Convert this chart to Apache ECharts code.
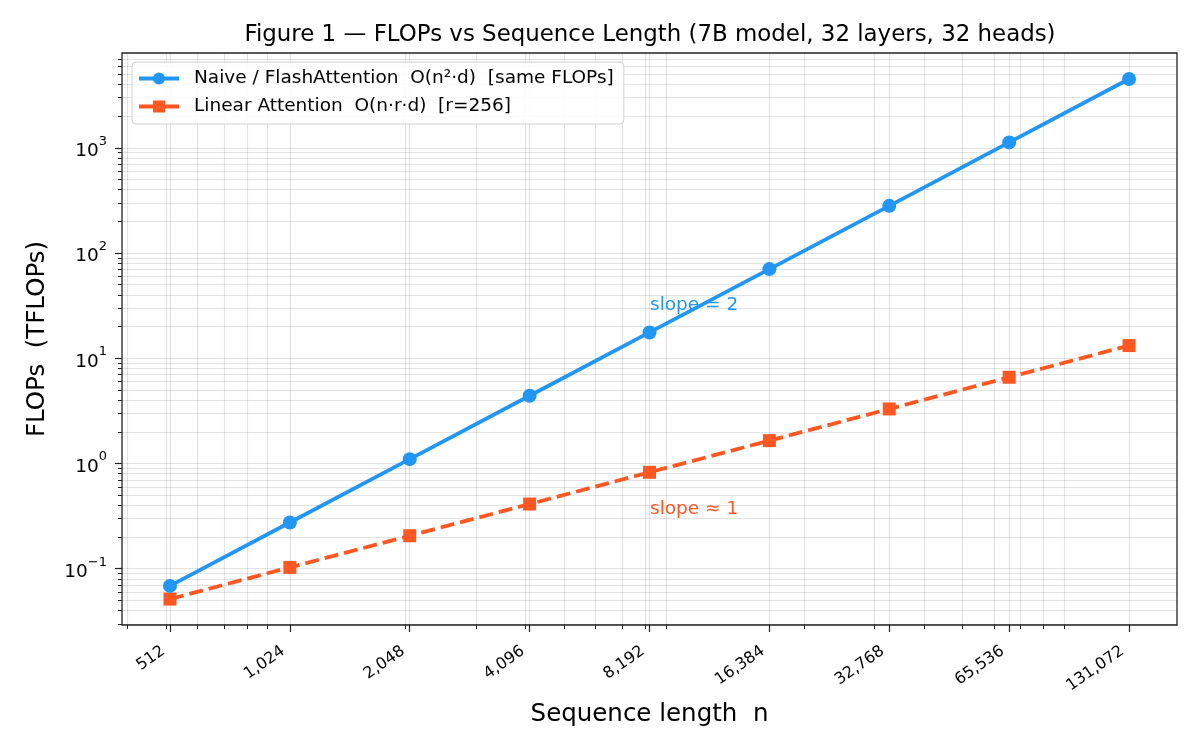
<!DOCTYPE html>
<html>
<head>
<meta charset="utf-8">
<script src="https://cdn.jsdelivr.net/npm/echarts@6/dist/echarts.min.js"></script>
<style>
  html, body { margin: 0; padding: 0; background: #fff; }
  #container { width: 1200px; height: 750px; }
</style>
</head>
<body>
<div id="container"></div>
<script>
// data
var seqLen = [512, 1024, 2048, 4096, 8192, 16384, 32768, 65536, 131072];
var naiveFlops = [0.0687, 0.275, 1.10, 4.40, 17.6, 70.4, 281, 1126, 4504];
var linearFlops = [0.0515, 0.103, 0.206, 0.412, 0.825, 1.65, 3.30, 6.60, 13.2];
var yMajorTicks = [0.1, 1, 10, 100, 1000];
var seriesNames = [
    'Naive / FlashAttention  O(n\u00b2\u00b7d)  [same FLOPs]',
    'Linear Attention  O(n\u00b7r\u00b7d)  [r=256]'
];

// minor ticks 2..9 x 10^k (like matplotlib's log locator)
function minorTicks(lo, hi) {
    var out = [];
    for (var k = -3; k <= 6; k++) {
        for (var d = 2; d <= 9; d++) {
            var v = d * Math.pow(10, k);
            if (v >= lo && v <= hi) out.push(+v.toPrecision(6));
        }
    }
    return out;
}

var font = 'DejaVu Sans';
var xMin = 388, xMax = 172951;   // 2^8.6 .. 2^17.4
var yMin = 0.0292, yMax = 7962;  // 10^-1.535 .. 10^3.9
var blue = '#2196F3', orange = '#FF5722';
var gridColor = 'rgba(0,0,0,0.11)';

var chart = echarts.init(document.getElementById('container'));

var option = {
    animation: false,
    backgroundColor: '#fff',
    title: {
        text: 'Figure 1 \u2014 FLOPs vs Sequence Length (7B model, 32 layers, 32 heads)',
        left: 645,
        top: 19,
        textAlign: 'center',
        textStyle: { fontFamily: font, fontSize: 22.9, fontWeight: 'normal', color: '#000' }
    },
    legend: {
        left: 132,
        top: 62,
        orient: 'vertical',
        padding: [7, 10, 8, 5],
        itemGap: 9,
        itemWidth: 40,
        itemHeight: 15,
        backgroundColor: 'rgba(255,255,255,0.85)',
        borderColor: '#d0d0d0',
        borderWidth: 1,
        borderRadius: 4,
        lineStyle: { type: 'solid', width: 4 },
        textStyle: { fontFamily: font, fontSize: 18.5, color: '#000', padding: [0, 0, 0, 10] },
        data: seriesNames
    },
    grid: {
        left: 122, right: 23, top: 53, bottom: 125,
        show: true, borderColor: '#222', borderWidth: 1.3,
        backgroundColor: 'transparent'
    },
    xAxis: [{
        type: 'log', logBase: 2, min: xMin, max: xMax,
        name: 'Sequence length  n', nameLocation: 'middle', nameGap: 77,
        nameTextStyle: { fontFamily: font, fontSize: 24.5, color: '#000' },
        axisLine: { show: false },
        axisTick: { customValues: seqLen, length: 7, lineStyle: { color: '#222', width: 1.2 } },
        axisLabel: {
            customValues: seqLen, rotate: 35, margin: 20, padding: [0, 8, 0, 0],
            fontFamily: font, fontSize: 16, color: '#000',
            formatter: function (v) { return Math.round(v).toLocaleString('en-US'); }
        },
        splitLine: { show: true, lineStyle: { color: gridColor, width: 1.2 } }
    }, {
        type: 'log', logBase: 10, min: xMin, max: xMax, position: 'bottom',
        axisLine: { show: false },
        axisTick: { customValues: minorTicks(xMin, xMax), length: 4, lineStyle: { color: '#222', width: 1 } },
        axisLabel: { show: false },
        splitLine: { show: true, lineStyle: { color: gridColor, width: 1.2 } }
    }],
    yAxis: [{
        type: 'log', logBase: 10, min: yMin, max: yMax,
        name: 'FLOPs  (TFLOPs)', nameLocation: 'middle', nameGap: 72,
        nameTextStyle: { fontFamily: font, fontSize: 24.5, color: '#000' },
        axisLine: { show: false },
        axisTick: { customValues: yMajorTicks, length: 7, lineStyle: { color: '#222', width: 1.2 } },
        axisLabel: {
            customValues: yMajorTicks, margin: 15,
            formatter: function (v) {
                var e = Math.round(Math.log10(v));
                return '{b|10}{s|' + (e < 0 ? '\u2212' + (-e) : e) + '}';
            },
            rich: {
                b: { fontFamily: font, fontSize: 18.5, color: '#000', lineHeight: 26, verticalAlign: 'bottom' },
                s: { fontFamily: font, fontSize: 13, color: '#000', lineHeight: 13, verticalAlign: 'top' }
            }
        },
        splitLine: { show: true, lineStyle: { color: gridColor, width: 1.2 } }
    }, {
        type: 'log', logBase: 10, min: yMin, max: yMax, position: 'left',
        axisLine: { show: false },
        axisTick: { customValues: minorTicks(yMin, yMax), length: 4, lineStyle: { color: '#222', width: 1 } },
        axisLabel: { show: false },
        splitLine: { show: true, lineStyle: { color: gridColor, width: 1.2 } }
    }],
    series: [{
        name: seriesNames[0],
        type: 'line',
        xAxisIndex: 0, yAxisIndex: 0,
        data: seqLen.map(function (x, i) { return [x, naiveFlops[i]]; }),
        symbol: 'circle', symbolSize: 14, showAllSymbol: true,
        itemStyle: { color: blue },
        lineStyle: { color: blue, width: 3.8 },
        z: 5,
        markPoint: {
            symbol: 'circle', symbolSize: 1, itemStyle: { color: 'transparent' },
            label: { show: true, position: 'right', distance: 0, color: blue, fontFamily: font, fontSize: 18.5, formatter: 'slope = 2' },
            data: [{ coord: [8192, 32] }]
        }
    }, {
        name: seriesNames[1],
        type: 'line',
        xAxisIndex: 0, yAxisIndex: 0,
        data: seqLen.map(function (x, i) { return [x, linearFlops[i]]; }),
        symbol: 'rect', symbolSize: 13, showAllSymbol: true,
        itemStyle: { color: orange },
        lineStyle: { color: orange, width: 3.8, type: [14, 6] },
        z: 4,
        markPoint: {
            symbol: 'circle', symbolSize: 1, itemStyle: { color: 'transparent' },
            label: { show: true, position: 'right', distance: 0, color: orange, fontFamily: font, fontSize: 18.5, formatter: 'slope \u2248 1' },
            data: [{ coord: [8192, 0.37] }]
        }
    }]
};

chart.setOption(option);
</script>
</body>
</html>
